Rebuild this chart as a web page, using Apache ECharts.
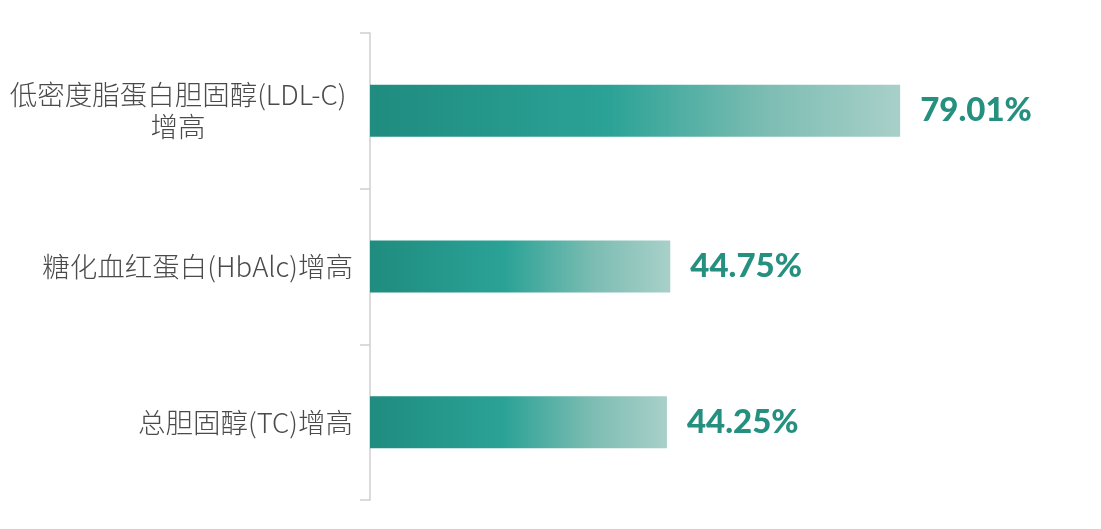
<!DOCTYPE html>
<html>
<head>
<meta charset="utf-8">
<script src="https://cdn.jsdelivr.net/npm/echarts@6/dist/echarts.min.js"></script>
<style>
html, body { margin: 0; padding: 0; background: #fff; }
#main { width: 1101px; height: 529px; }
</style>
</head>
<body>
<div id="main"></div>
<script>
// 数据
var categories = ['低密度脂蛋白胆固醇(LDL-C)\n增高', '糖化血红蛋白(HbAlc)增高', '总胆固醇(TC)增高'];
var values = [79.01, 44.75, 44.25];

var chart = echarts.init(document.getElementById('main'));
var option = {
    grid: {
        left: 370,
        right: 60,
        top: 33,
        bottom: 29
    },
    xAxis: {
        type: 'value',
        min: 0,
        max: 100,
        show: false
    },
    yAxis: {
        type: 'category',
        inverse: true,
        data: categories,
        axisLine: { lineStyle: { color: '#cfcfcf', width: 1.5 } },
        axisTick: { show: true, alignWithLabel: false, length: 10, lineStyle: { color: '#cfcfcf', width: 1.5 } },
        axisLabel: {
            margin: 17,
            fontSize: 27.5,
            lineHeight: 32,
            color: '#4a4a4a',
            fontFamily: 'Noto Sans CJK SC',
            fontWeight: 300,
            formatter: function (v) {
                if (v.indexOf('\n') >= 0) {
                    return v.split('\n').map(function (s) { return '{c|' + s + '}'; }).join('\n');
                }
                return v;
            },
            rich: {
                c: { width: 350, align: 'center', fontSize: 27.5, lineHeight: 32, color: '#4a4a4a', fontWeight: 300, fontFamily: 'Noto Sans CJK SC' }
            }
        }
    },
    series: [{
        type: 'bar',
        data: values,
        barWidth: 52,
        itemStyle: {
            color: new echarts.graphic.LinearGradient(0, 0, 1, 0, [
                { offset: 0, color: '#1f8c7f' },
                { offset: 0.45, color: '#2ba296' },
                { offset: 0.75, color: '#7dbdb3' },
                { offset: 1, color: '#a8d0c9' }
            ])
        },
        label: {
            show: true,
            position: 'right',
            distance: 20,
            formatter: '{c}%',
            fontSize: 33,
            fontWeight: 900,
            fontFamily: 'Lato',
            color: '#25907f'
        }
    }]
};
chart.setOption(option);
</script>
</body>
</html>
